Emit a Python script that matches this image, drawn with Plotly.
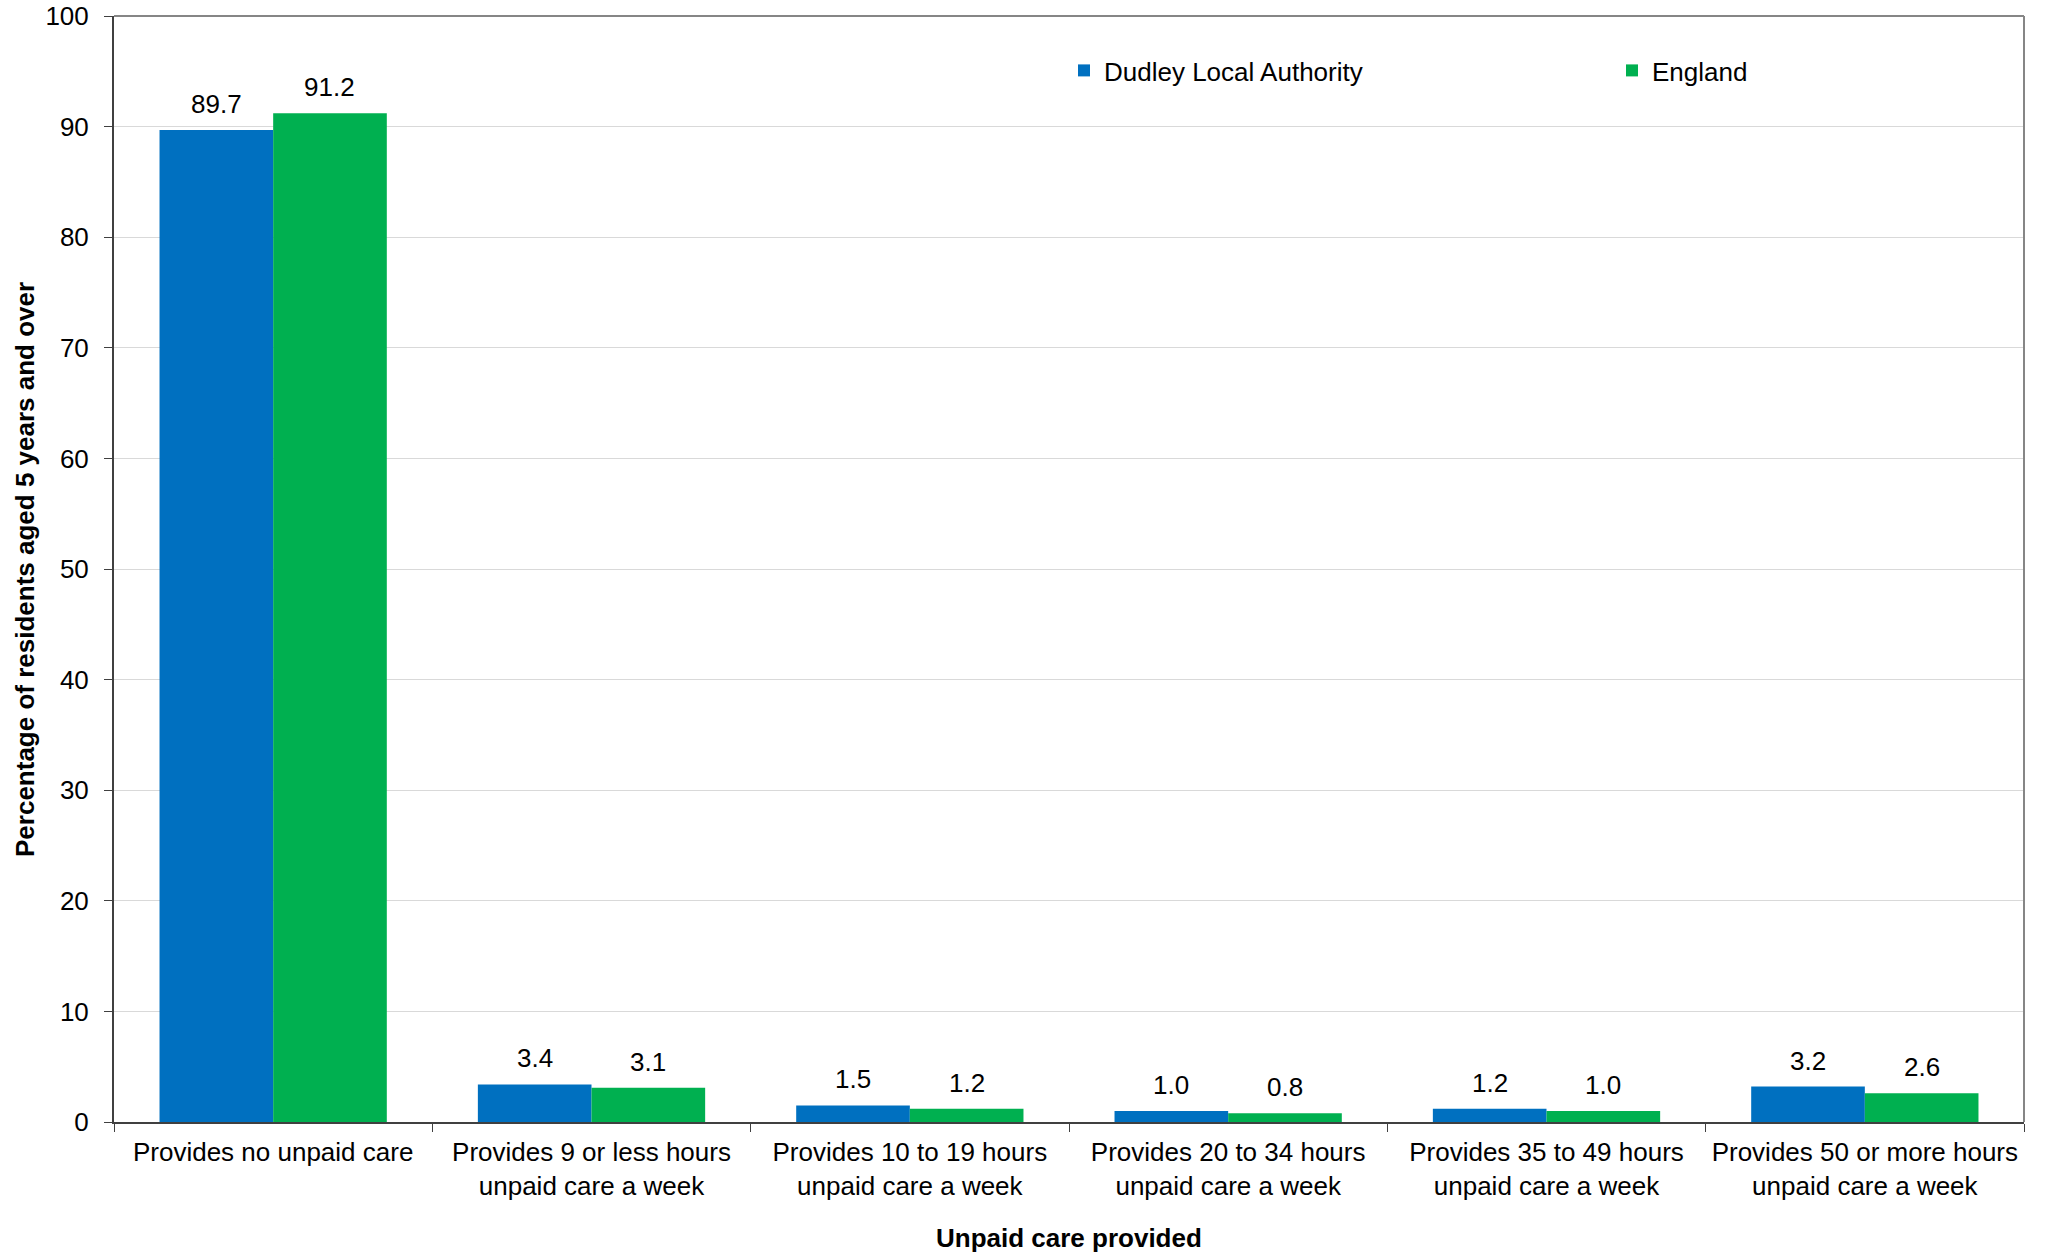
import plotly.graph_objects as go

categories = [
    "Provides no unpaid care",
    "Provides 9 or less hours<br>unpaid care a week",
    "Provides 10 to 19 hours<br>unpaid care a week",
    "Provides 20 to 34 hours<br>unpaid care a week",
    "Provides 35 to 49 hours<br>unpaid care a week",
    "Provides 50 or more hours<br>unpaid care a week",
]
dudley = [89.7, 3.4, 1.5, 1.0, 1.2, 3.2]
england = [91.2, 3.1, 1.2, 0.8, 1.0, 2.6]
y_ticks = list(range(0, 101, 10))

W, H = 2048, 1255
ML, MR, MT, MB = 114, 24, 16, 133
PLOT_W = W - ML - MR
PLOT_H = H - MT - MB
BARGAP = 0.286
FONT = "Liberation Sans, Arial, sans-serif"
BLUE = "#0070C0"
GREEN = "#00B050"

fig = go.Figure()
fig.add_trace(go.Bar(name="Dudley Local Authority", x=categories, y=dudley,
                     marker=dict(color=BLUE, line=dict(width=0))))
fig.add_trace(go.Bar(name="England", x=categories, y=england,
                     marker=dict(color=GREEN, line=dict(width=0))))

bar_px = PLOT_W / len(categories) * (1 - BARGAP) / 2
annotations = []
for vals, sign in ((dudley, -1), (england, 1)):
    for c, v in zip(categories, vals):
        annotations.append(dict(
            x=c, y=v, xref="x", yref="y", text=f"{v:.1f}", showarrow=False,
            xshift=sign * bar_px / 2, yanchor="bottom", yshift=9,
            font=dict(family=FONT, size=26, color="#000000")))

annotations.append(dict(text="<b>Unpaid care provided</b>", x=0.5, y=-0.105,
                        xref="paper", yref="paper", showarrow=False,
                        yanchor="middle", font=dict(family=FONT, size=26, color="#000")))
annotations.append(dict(text="<b>Percentage of residents aged 5 years and over</b>",
                        x=-0.0466, y=0.5, xref="paper", yref="paper", showarrow=False,
                        textangle=-90, xanchor="center", yanchor="middle",
                        font=dict(family=FONT, size=26, color="#000")))

fig.update_layout(
    width=W, height=H,
    margin=dict(l=ML, r=MR, t=MT, b=MB, autoexpand=False),
    paper_bgcolor="white", plot_bgcolor="white",
    barmode="group", bargap=BARGAP, bargroupgap=0,
    font=dict(family=FONT, size=26, color="#000"),
    annotations=annotations,
    legend=dict(orientation="h", xref="paper", yref="paper",
                x=(1064 - ML) / PLOT_W, y=1 - (70.5 - MT) / PLOT_H,
                xanchor="left", yanchor="middle",
                entrywidth=503, entrywidthmode="pixels",
                font=dict(family=FONT, size=26, color="#000"),
                bgcolor="rgba(0,0,0,0)", traceorder="normal"),
    shapes=[
        dict(type="line", xref="paper", yref="paper", x0=0, x1=1, y0=1, y1=1,
             line=dict(color="#868686", width=2)),
        dict(type="line", xref="paper", yref="paper", x0=1, x1=1, y0=0, y1=1,
             line=dict(color="#868686", width=2)),
    ],
)
fig.update_xaxes(
    type="category", showline=True, linecolor="#404040", linewidth=2,
    ticks="outside", tickson="boundaries", ticklen=8, tickcolor="#404040",
    tickwidth=1, showgrid=False, tickfont=dict(family=FONT, size=26, color="#000"),
    ticklabelstandoff=6, automargin=False,
)
fig.update_yaxes(
    range=[0, 100], tickvals=y_ticks, showline=True, linecolor="#404040",
    linewidth=2, ticks="outside", ticklen=8, tickcolor="#404040",
    showgrid=True, gridcolor="#D9D9D9", gridwidth=1, zeroline=False,
    tickfont=dict(family=FONT, size=26, color="#000"), ticklabelstandoff=10,
    ticklabeloverflow="allow", automargin=False,
)

fig.write_html("out.html", config={"displayModeBar": False},
               post_script="document.body.style.margin='0px';")
